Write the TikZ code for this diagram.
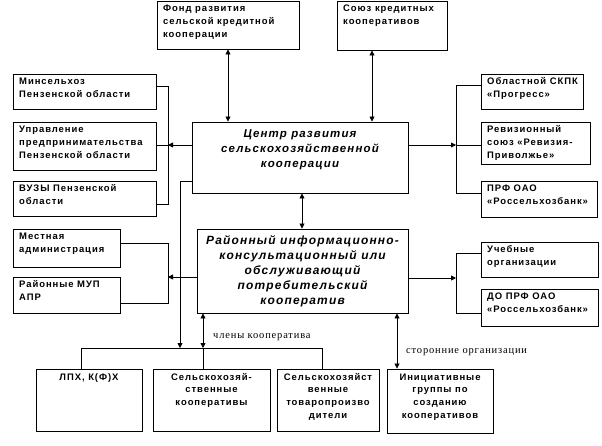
\documentclass[tikz,border=0pt]{standalone}
\usepackage{fontspec}
\setmainfont{Liberation Sans}
\newfontfamily\bxf[LetterSpace=10]{Liberation Sans}
\newfontfamily\lblf[LetterSpace=8]{Liberation Serif}
\usetikzlibrary{arrows.meta}
\tikzset{
  box/.style={draw, line width=0.9bp, inner sep=0pt, fill=white},
  smalltxt/.style={inner sep=0pt, font=\bxf\bfseries\fontsize{9.5}{13}\selectfont},
  bigtxt/.style={inner sep=0pt, font=\bxf\bfseries\itshape\fontsize{11.5}{15}\selectfont},
  raytxt/.style={inner sep=0pt, font=\bxf\bfseries\itshape\fontsize{12}{15}\selectfont},
  lbl/.style={inner sep=0pt, font=\lblf\fontsize{10.5}{12}\selectfont},
  ln/.style={line width=0.8bp},
  arr/.style={ln, -{Triangle[length=5bp,width=5bp]}},
  dbl/.style={ln, {Triangle[length=5bp,width=5bp]}-{Triangle[length=5bp,width=5bp]}},
}
% left-aligned box: name, x1, y1, x2, y2, text
\newcommand{\lbox}[6]{%
  \node[box, minimum width={(#4-#2)*1bp}, minimum height={(#5-#3)*1bp}] (#1) at ({(#2+#4)/2},{(#3+#5)/2}) {};
  \node[smalltxt, anchor=base west] (#1-t) at ({#2+6},{#3+11}) {\begin{tabular}[t]{@{}l@{}}#6\end{tabular}};}
% centred box: name, x1, y1, x2, y2, baseline offset, text style, text
\newcommand{\cbox}[8]{%
  \node[box, minimum width={(#4-#2)*1bp}, minimum height={(#5-#3)*1bp}] (#1) at ({(#2+#4)/2},{(#3+#5)/2}) {};
  \node[#7, anchor=base] (#1-t) at ({(#2+#4)/2},{#3+#6}) {\begin{tabular}[t]{@{}c@{}}#8\end{tabular}};}
\begin{document}
\begin{tikzpicture}[x=1bp,y=-1bp]
\fill[white] (0,0) rectangle (602,446);
\useasboundingbox (0,0) rectangle (602,446);
% top
\lbox{fond}{157}{1}{299}{49}{Фонд развития\\сельской кредитной\\кооперации}
\lbox{soyuz}{337}{1}{447}{50}{Союз кредитных\\кооперативов}
% left column
\lbox{minsel}{13}{74}{156}{109}{Минсельхоз\\Пензенской области}
\lbox{uprav}{13}{122}{156}{170}{Управление\\предпринимательства\\Пензенской области}
\lbox{vuz}{13}{181}{156}{216}{ВУЗЫ Пензенской\\области}
\lbox{mest}{13}{229}{120}{267}{Местная\\администрация}
\lbox{mup}{13}{277}{120}{313}{Районные МУП\\АПР}
% right column
\lbox{oblast}{481}{74}{583}{109}{Областной СКПК\\«Прогресс»}
\lbox{reviz}{481}{122}{590}{164}{Ревизионный\\союз «Ревизия-\\Приволжье»}
\lbox{prf}{481}{181}{597}{217}{ПРФ ОАО\\«Россельхозбанк»}
\lbox{ucheb}{481}{242}{598}{277}{Учебные\\организации}
\lbox{doprf}{481}{289}{598}{326}{ДО ПРФ ОАО\\«Россельхозбанк»}
% centre
\cbox{center}{192}{122}{408}{193}{16}{bigtxt}{Центр развития\\сельскохозяйственной\\кооперации}
\cbox{rayon}{197}{229}{408}{313}{16}{raytxt}{Районный информационно-\\консультационный или\\обслуживающий\\потребительский\\кооператив}
% bottom
\cbox{lph}{36}{369}{142}{431}{11}{smalltxt}{ЛПХ, К(Ф)Х}
\cbox{selkoop}{153}{369}{270}{431}{11}{smalltxt}{Сельскохозяй-\\ственные\\кооперативы}
\cbox{selprod}{277}{369}{379}{431}{11}{smalltxt}{Сельскохозяйст\\венные\\товаропроизво\\дители}
\cbox{init}{387}{369}{493}{433}{11}{smalltxt}{Инициативные\\группы по\\созданию\\кооперативов}
% helper coordinates
\coordinate (xS) at (372,0);
\coordinate (xC) at (302,0);
\coordinate (xI) at (397,0);
\coordinate (jL1) at (168,145);
\coordinate (bL1a) at (168,86);
\coordinate (bL1b) at (168,204);
\coordinate (jR1) at (456,145);
\coordinate (bR1a) at (456,85);
\coordinate (bR1b) at (456,193);
\coordinate (dA) at (180,181);
\coordinate (jL2) at (168,277);
\coordinate (bL2a) at (168,243);
\coordinate (bL2b) at (168,303);
\coordinate (jR2) at (456,278);
\coordinate (bR2a) at (456,253);
\coordinate (bR2b) at (456,313);
\coordinate (busL) at (81,348);
\coordinate (busM) at (203,348);
\coordinate (busR) at (322,348);
% connectors
\draw[dbl] (fond.south) -- (fond.south |- center.north);
\draw[dbl] (soyuz.south -| xS) -- (center.north -| xS);
\draw[arr] (center.west |- jL1) -- (jL1);
\draw[ln] (minsel.east |- bL1a) -- (bL1a) -- (bL1b) -- (vuz.east |- bL1b);
\draw[ln] (uprav.east |- jL1) -- (jL1);
\draw[arr] (center.east |- jR1) -- (jR1);
\draw[ln] (oblast.west |- bR1a) -- (bR1a) -- (bR1b) -- (prf.west |- bR1b);
\draw[ln] (reviz.west |- jR1) -- (jR1);
\draw[dbl] (center.south -| xC) -- (rayon.north -| xC);
\draw[arr] (center.west |- dA) -- (dA) -- (dA |- busL);
\draw[arr] (rayon.west |- jL2) -- (jL2);
\draw[ln] (mest.east |- bL2a) -- (bL2a) -- (bL2b) -- (mup.east |- bL2b);
\draw[arr] (rayon.east |- jR2) -- (jR2);
\draw[ln] (ucheb.west |- bR2a) -- (bR2a) -- (bR2b) -- (doprf.west |- bR2b);
\draw[ln] (lph.north -| busL) -- (busL) -- (busR) -- (selprod.north -| busR);
\draw[ln] (busM) -- (selkoop.north -| busM);
\draw[dbl] (rayon.south -| busM) -- (busM);
\draw[dbl] (rayon.south -| xI) -- (init.north -| xI);
% labels
\node[lbl, anchor=base west] (lblmem) at (213,338) {члены кооператива};
\node[lbl, anchor=base west] (lblext) at (406,353) {сторонние организации};
\end{tikzpicture}
\end{document}
